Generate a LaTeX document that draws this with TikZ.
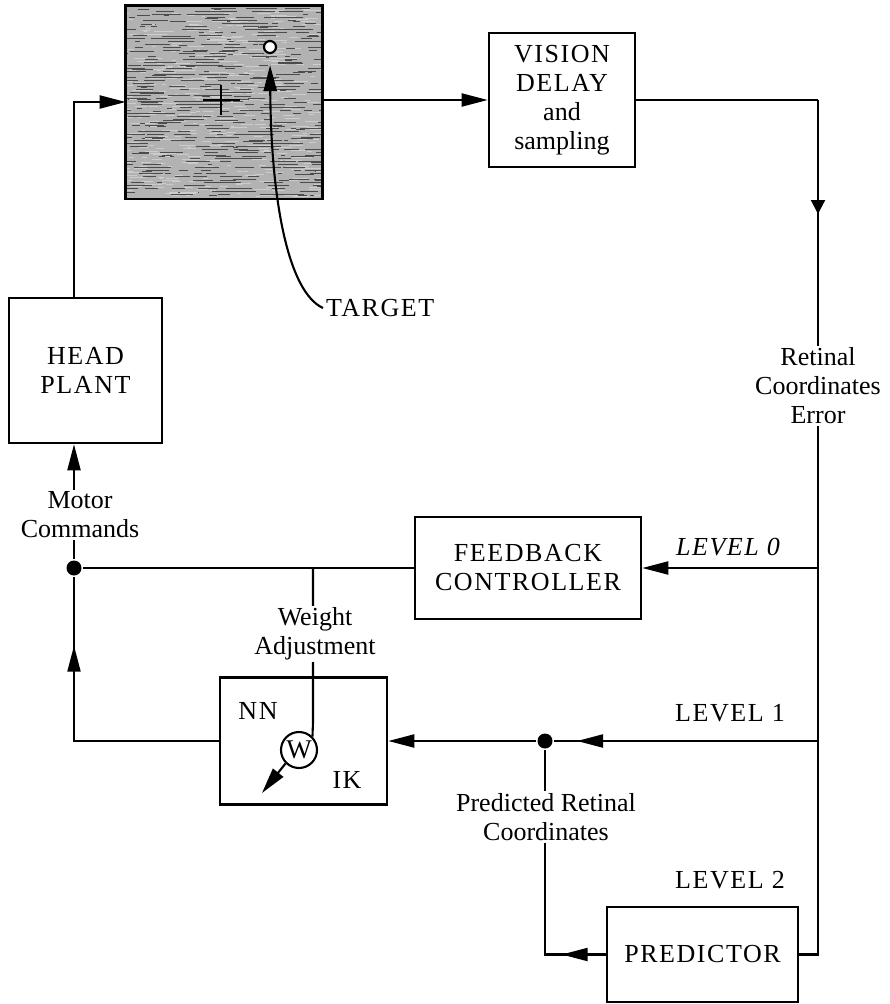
\documentclass[tikz,border=0pt]{standalone}
\usepackage{fontspec}
\setmainfont{Liberation Serif}
\newfontfamily\capsfont[LetterSpace=6]{Liberation Serif}
\usetikzlibrary{arrows.meta,decorations.markings}
\begin{document}
\begin{tikzpicture}[x=1pt,y=-1pt,
  line width=2.1pt,
  font=\fontsize{26}{29}\selectfont,
  >={Triangle[length=26pt,width=13pt]},
  box/.style={draw, rectangle, line width=2.6pt, align=center, inner sep=0pt, font=\fontsize{26}{29}\selectfont\capsfont},
  lbl/.style={fill=white, align=center, inner sep=2pt},
  caplbl/.style={align=center, inner sep=2pt, font=\fontsize{26}{29}\selectfont\capsfont},
  jdot/.style={circle, fill=black, minimum size=15pt, inner sep=0pt},
  midarr/.style={postaction={decorate}, decoration={markings, mark=at position #1 with {\arrow{Triangle[length=26pt,width=13pt]}}}},
  smallarr/.style={postaction={decorate}, decoration={markings, mark=at position #1 with {\arrow{Triangle[length=14pt,width=14pt]}}}}
]
\useasboundingbox (0,0) rectangle (889,1004);

% boxes
\node[box, minimum width=194pt, minimum height=191pt] (scene) at (224,102) {};
\begin{scope}
  \clip (scene.north west) rectangle (scene.south east);
  \fill[black!30] (scene.north west) rectangle (scene.south east);
  \pgfmathsetseed{3}
  \foreach \r in {0,...,62} {
    \foreach \k in {1,...,8} {
      \pgfmathsetmacro\xa{120+200*rnd}
      \pgfmathsetmacro\ln{4+22*rnd}
      \pgfmathsetmacro\yy{8+3*\r+rnd}
      \draw[line width=0.7pt, black!70] (\xa,\yy) -- ++(\ln,0);
    }
    \foreach \k in {1,...,7} {
      \pgfmathsetmacro\xa{120+200*rnd}
      \pgfmathsetmacro\ln{3+14*rnd}
      \pgfmathsetmacro\yy{9.5+3*\r+rnd}
      \draw[line width=0.8pt, white!80!black] (\xa,\yy) -- ++(\ln,0);
    }
  }
\end{scope}
\draw[line width=2.6pt] (scene.north west) rectangle (scene.south east);
\draw[line width=1.8pt, black] (203,100) -- (240,100) (221,85) -- (221,115);

\node[box, minimum width=146pt, minimum height=134pt] (vision) at (562,100) {VISION\\DELAY\\{\rmfamily and}\\{\rmfamily sampling}};
\node[box, minimum width=153pt, minimum height=145pt] (head) at (85.5,370.5) {HEAD\\PLANT};
\node[box, minimum width=226pt, minimum height=102pt] (fb) at (528,568) {FEEDBACK\\CONTROLLER};
\node[box, minimum width=167pt, minimum height=127pt] (nn) at (303.5,741) {};
\node[box, minimum width=191pt, minimum height=95pt] (pred) at (702.5,954.5) {PREDICTOR};

\node[caplbl] (nnt) at (258,711) {NN};
\node[caplbl] (ikt) at (347,780) {IK};

% junctions and coordinates
\node[jdot] (dot1) at (74,568) {};
\node[jdot] (dot2) at (545,741) {};
\coordinate (R0) at (818,100);
\coordinate (R3) at (818,954.5);

% target
\node[caplbl, anchor=west] (tgt) at (323,308) {TARGET};
\node[circle, draw, fill=white, line width=2.2pt, minimum size=12pt, inner sep=0pt] (tc) at (270,47) {};
\draw[->] (tgt.west) .. controls (288,292) and (271,200) .. (tc.south) [shorten >=11pt];

% top flow
\draw[->] (head.north -| dot1) |- (scene.west);
\draw[->] (scene.east |- vision.west) -- (vision.west);
\draw (vision.east) -- (R0);
\draw[smallarr=114pt] (R0) -- (R3) -- (pred.east);

% level 0
\draw[->] (fb.east -| R0) -- (fb.east);
\draw (fb.west) -- (dot1);
\draw[->] (dot1) -- (head.south -| dot1);

% level 1
\draw[midarr=241pt] (nn.east -| R0) -- (dot2);
\draw[->] (dot2) -- (nn.east);
\draw[midarr=240pt] (nn.west) -- (nn.west -| dot1) -- (dot1);

% level 2
\draw[midarr=44pt] (pred.west) -| (dot2);

% weight adjustment
\coordinate (wtop) at (313,568);
\coordinate (wbend) at (313,722);
\coordinate (wtip) at (262,793);
\node[circle, draw, line width=2.1pt, minimum size=36pt, inner sep=0pt, font=\fontsize{27}{27}\selectfont] (wc) at (299,750) {W};
\draw (wtop) -- (wbend) .. controls (313,730) .. (wc.north east);
\draw[->] (wc.225) -- (wtip);

% labels on lines
\node[lbl] (motor) at (80,515) {Motor\\Commands};
\node[lbl] (weight) at (315,634) {Weight\\Adjustment};
\node[lbl] (retinal) at (818,386) {Retinal\\Coordinates\\Error};
\node[lbl] (predlbl) at (546,817) {Predicted Retinal\\Coordinates};

\node[caplbl, font=\fontsize{26}{29}\selectfont\capsfont\itshape] (lv0) at (728,547) {LEVEL 0};
\node[caplbl] (lv1) at (730,713) {LEVEL 1};
\node[caplbl] (lv2) at (730,880) {LEVEL 2};
\end{tikzpicture}
\end{document}
